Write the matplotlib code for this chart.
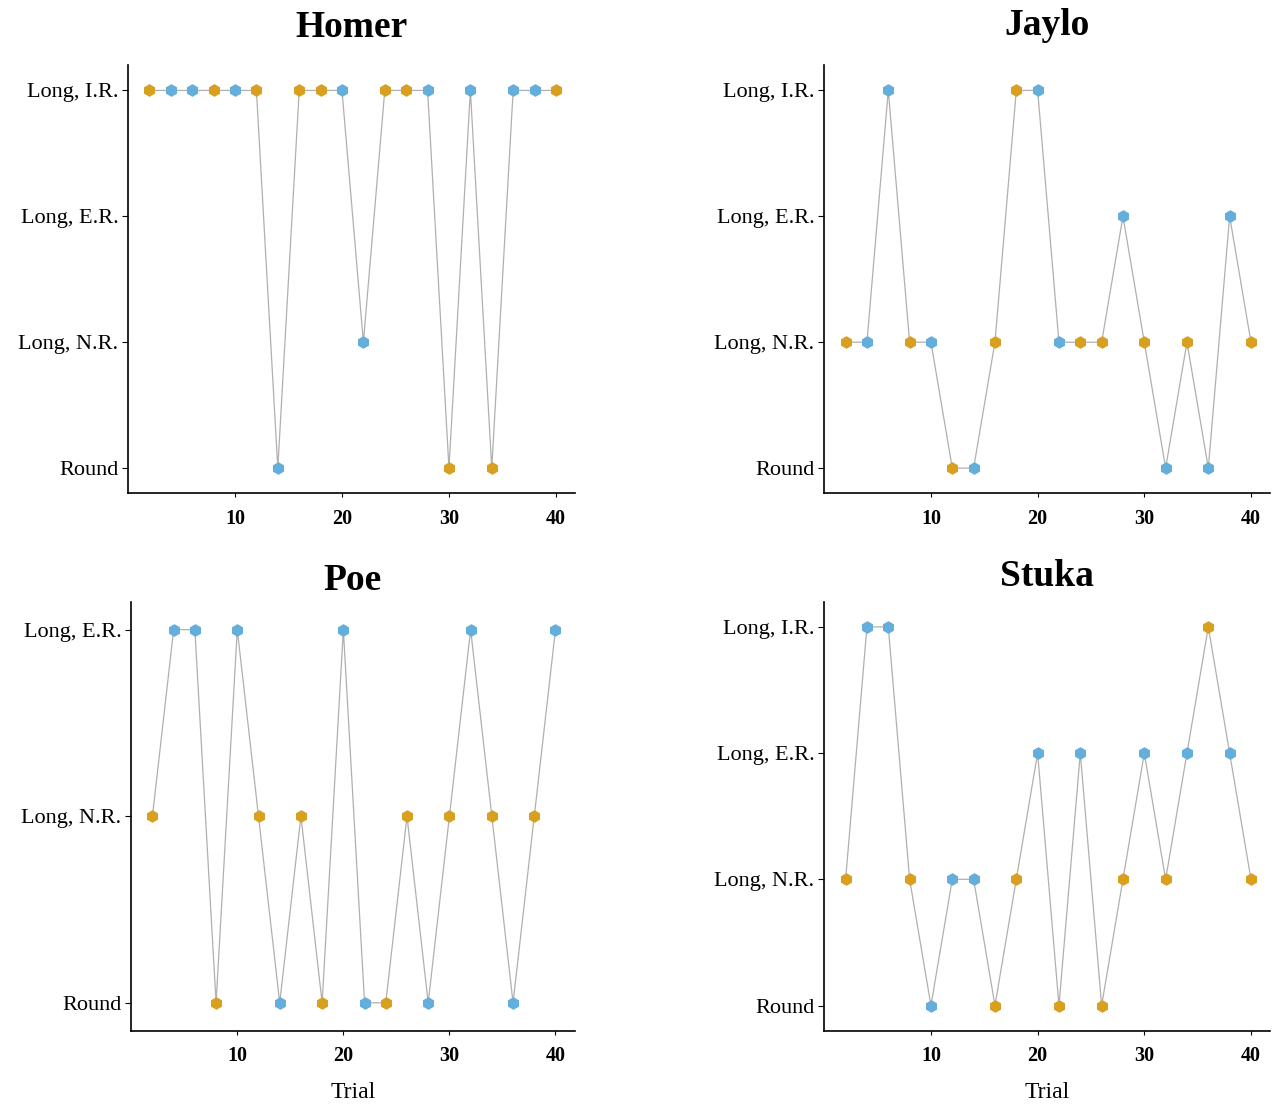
import matplotlib.pyplot as plt
import numpy as np

plt.rcParams['font.family'] = ['Liberation Serif', 'DejaVu Serif']

trials = np.arange(2, 41, 2)

# 0 = Round, 1 = Long N.R., 2 = Long E.R., 3 = Long I.R.
levels4 = ['Round', 'Long, N.R.', 'Long, E.R.', 'Long, I.R.']
levels3 = ['Round', 'Long, N.R.', 'Long, E.R.']

# b = blue, o = orange
homer_vals = [3, 3, 3, 3, 3, 3, 0, 3, 3, 3, 1, 3, 3, 3, 0, 3, 0, 3, 3, 3]
homer_col = ['o', 'b', 'b', 'o', 'b', 'o', 'b', 'o', 'o', 'b', 'b', 'o', 'o', 'b', 'o', 'b', 'o', 'b', 'b', 'o']

jaylo_vals = [1, 1, 3, 1, 1, 0, 0, 1, 3, 3, 1, 1, 1, 2, 1, 0, 1, 0, 2, 1]
jaylo_col = ['o', 'b', 'b', 'o', 'b', 'o', 'b', 'o', 'o', 'b', 'b', 'o', 'o', 'b', 'o', 'b', 'o', 'b', 'b', 'o']

poe_vals = [1, 2, 2, 0, 2, 1, 0, 1, 0, 2, 0, 0, 1, 0, 1, 2, 1, 0, 1, 2]
poe_col = ['o', 'b', 'b', 'o', 'b', 'o', 'b', 'o', 'o', 'b', 'b', 'o', 'o', 'b', 'o', 'b', 'o', 'b', 'o', 'b']

stuka_vals = [1, 3, 3, 1, 0, 1, 1, 0, 1, 2, 0, 2, 0, 1, 2, 1, 2, 3, 2, 1]
stuka_col = ['o', 'b', 'b', 'o', 'b', 'b', 'b', 'o', 'o', 'b', 'o', 'b', 'o', 'o', 'b', 'o', 'b', 'o', 'b', 'o']

colors = {'b': '#64aedb', 'o': '#d9a020'}

fig = plt.figure(figsize=(12.74, 11.06), dpi=100)

panels = [
    ('Homer', homer_vals, homer_col, levels4, [0.1005, 0.554, 0.351, 0.387], (-0.2, 3.2), 0.9665, False),
    ('Jaylo', jaylo_vals, jaylo_col, levels4, [0.647, 0.554, 0.350, 0.387], (-0.2, 3.2), 0.968, False),
    ('Poe', poe_vals, poe_col, levels3, [0.103, 0.068, 0.348, 0.388], (-0.15, 2.15), 0.4665, True),
    ('Stuka', stuka_vals, stuka_col, levels4, [0.647, 0.068, 0.350, 0.388], (-0.2, 3.2), 0.4705, True),
]

for name, vals, cols, labels, rect, ylim, ty, bottom in panels:
    ax = fig.add_axes(rect)
    ax.plot(trials, vals, color='#b0b0b0', lw=0.9, zorder=1)
    for t, v, c in zip(trials, vals, cols):
        ax.plot(t, v, marker='h', ms=8, color=colors[c], mec=colors[c], zorder=2)
    ax.set_xlim(0, 41.8)
    ax.set_ylim(*ylim)
    ax.set_yticks(range(len(labels)))
    ax.set_yticklabels(labels, fontsize=16)
    ax.set_xticks([10, 20, 30, 40])
    ax.set_xticklabels(['10', '20', '30', '40'], fontsize=14.5, fontweight='bold')
    ax.tick_params(axis='y', length=4, width=0.8, pad=3)
    ax.tick_params(axis='x', length=3, width=0.8, pad=8)
    for s in ['top', 'right']:
        ax.spines[s].set_visible(False)
    for s in ['left', 'bottom']:
        ax.spines[s].set_linewidth(1.2)
    cx = rect[0] + rect[2] / 2
    fig.text(cx, ty, name, ha='center', va='baseline', fontsize=27, fontweight='bold')
    if bottom:
        fig.text(cx, 1 - 1098 / 1106, 'Trial', ha='center', va='baseline', fontsize=17)

fig.savefig('out.png', dpi=100)
